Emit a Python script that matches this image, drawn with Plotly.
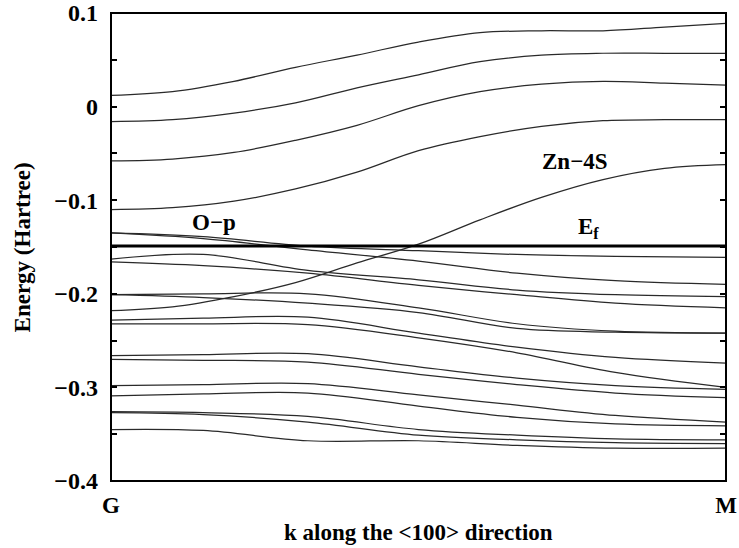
import plotly.graph_objects as go

# ---------------- data ----------------
# k positions (fraction of the G -> M path)
k_cond = [0.0, 0.1, 0.2, 0.3, 0.4, 0.5, 0.6, 0.7, 0.8, 0.9, 1.0]
k_val = [0.0, 0.15, 0.32, 0.5, 0.66, 0.82, 1.0]
k_ends = [0.0, 1.0]

# conduction bands (Hartree)
cond_1 = [0.012, 0.016, 0.027, 0.042, 0.055, 0.069, 0.079, 0.081, 0.081, 0.085, 0.089]
cond_2 = [-0.016, -0.014, -0.007, 0.004, 0.020, 0.034, 0.048, 0.055, 0.057, 0.057, 0.057]
cond_3 = [-0.058, -0.056, -0.049, -0.036, -0.020, 0.001, 0.016, 0.024, 0.027, 0.025, 0.023]
cond_4 = [-0.110, -0.108, -0.101, -0.088, -0.070, -0.047, -0.032, -0.021, -0.015, -0.014, -0.014]
zn_4s = [-0.218, -0.214, -0.203, -0.188, -0.167, -0.147, -0.121, -0.097, -0.078, -0.066, -0.062]

# valence bands (Hartree)
val_01 = [-0.135, -0.139, -0.149, -0.154, -0.158, -0.160, -0.161]
val_02 = [-0.135, -0.141, -0.153, -0.165, -0.178, -0.186, -0.190]
val_03 = [-0.163, -0.158, -0.175, -0.185, -0.196, -0.201, -0.203]
val_04 = [-0.166, -0.170, -0.178, -0.191, -0.201, -0.210, -0.215]
val_05 = [-0.201, -0.200, -0.200, -0.215, -0.232, -0.240, -0.242]
val_06 = [-0.201, -0.204, -0.210, -0.220, -0.237, -0.241, -0.242]
val_07 = [-0.228, -0.226, -0.225, -0.242, -0.257, -0.268, -0.274]
val_08 = [-0.232, -0.232, -0.233, -0.247, -0.263, -0.284, -0.300]
val_09 = [-0.266, -0.265, -0.264, -0.278, -0.290, -0.298, -0.302]
val_10 = [-0.270, -0.271, -0.273, -0.286, -0.297, -0.306, -0.311]
val_11 = [-0.298, -0.297, -0.296, -0.308, -0.319, -0.330, -0.337]
val_12 = [-0.309, -0.307, -0.306, -0.320, -0.332, -0.339, -0.341]
val_13 = [-0.326, -0.327, -0.331, -0.345, -0.351, -0.355, -0.356]
val_14 = [-0.327, -0.329, -0.337, -0.351, -0.356, -0.359, -0.360]
val_15 = [-0.345, -0.346, -0.357, -0.357, -0.362, -0.365, -0.365]

fermi_level = -0.149

y_range = [-0.4, 0.1]
y_tickvals = [0.1, 0.0, -0.1, -0.2, -0.3, -0.4]
y_ticktext = ["0.1", "0", "\u22120.1", "\u22120.2", "\u22120.3", "\u22120.4"]
y_minorvals = [0.05, -0.05, -0.15, -0.25, -0.35]
x_tickvals = [0.0, 1.0]
x_ticktext = ["G", "M"]

# ---------------- figure ----------------
SERIF = "Liberation Serif"
band_line = dict(color="#2a2a2a", width=1.25, shape="spline", smoothing=1.0)

fig = go.Figure()
for band in [cond_1, cond_2, cond_3, cond_4, zn_4s]:
    fig.add_trace(go.Scatter(x=k_cond, y=band, mode="lines", line=band_line, hoverinfo="skip"))
for band in [val_01, val_02, val_03, val_04, val_05, val_06, val_07, val_08,
             val_09, val_10, val_11, val_12, val_13, val_14, val_15]:
    fig.add_trace(go.Scatter(x=k_val, y=band, mode="lines", line=band_line, hoverinfo="skip"))

# Fermi level (drawn on the right-hand twin axis, same scale)
fig.add_trace(go.Scatter(x=k_ends, y=[fermi_level, fermi_level], mode="lines",
                         line=dict(color="black", width=3), hoverinfo="skip",
                         yaxis="y2"))

label_font = dict(family=SERIF, size=23, color="black", weight="bold")
fig.add_annotation(x=0.167, y=-0.124, xref="x", yref="y", text="O\u2212p",
                   showarrow=False, font=label_font)
fig.add_annotation(x=0.754, y=-0.059, xref="x", yref="y", text="Zn\u22124S",
                   showarrow=False, font=label_font)
fig.add_annotation(x=0.776, y=-0.130, xref="x", yref="y", text="E<sub>f</sub>",
                   showarrow=False, font=label_font)

# axis titles
fig.add_annotation(x=0.5, y=-0.109, xref="paper", yref="paper",
                   text="k along the &lt;100&gt; direction", showarrow=False,
                   font=label_font, xanchor="center", yanchor="middle")
fig.add_annotation(x=-0.144, y=0.5, xref="paper", yref="paper",
                   text="Energy (Hartree)", showarrow=False, textangle=-90,
                   font=label_font, xanchor="center", yanchor="middle")

# plot frame
fig.add_shape(type="rect", xref="paper", yref="paper", x0=0, x1=1, y0=0, y1=1,
              line=dict(color="black", width=2), layer="above")

tick_common = dict(ticks="inside", ticklen=6, tickwidth=1.5, tickcolor="black")

fig.update_layout(
    width=739, height=548,
    margin=dict(l=111, r=13, t=13, b=67, autoexpand=False),
    plot_bgcolor="white", paper_bgcolor="white",
    showlegend=False,
    xaxis=dict(range=[0, 1], showline=False,
               showgrid=False, zeroline=False, automargin=False,
               tickvals=x_tickvals, ticktext=x_ticktext,
               ticks="outside", ticklen=3, tickcolor="rgba(0,0,0,0)",
               ticklabeloverflow="allow",
               tickfont=dict(family=SERIF, size=23, color="black", weight="bold")),
    yaxis=dict(range=y_range, showline=False,
               showgrid=False, zeroline=False, automargin=False,
               tickvals=y_tickvals, ticktext=y_ticktext,
               ticklabelstandoff=12,
               minor=dict(tickvals=y_minorvals, **tick_common),
               tickfont=dict(family=SERIF, size=24, color="black", weight="bold"),
               **tick_common),
    yaxis2=dict(range=y_range, overlaying="y", side="right", anchor="x",
                showline=False,
                showgrid=False, zeroline=False, automargin=False,
                tickvals=y_tickvals, showticklabels=False,
                minor=dict(tickvals=y_minorvals, **tick_common),
                **tick_common),
)

fig.write_html("out.html")
